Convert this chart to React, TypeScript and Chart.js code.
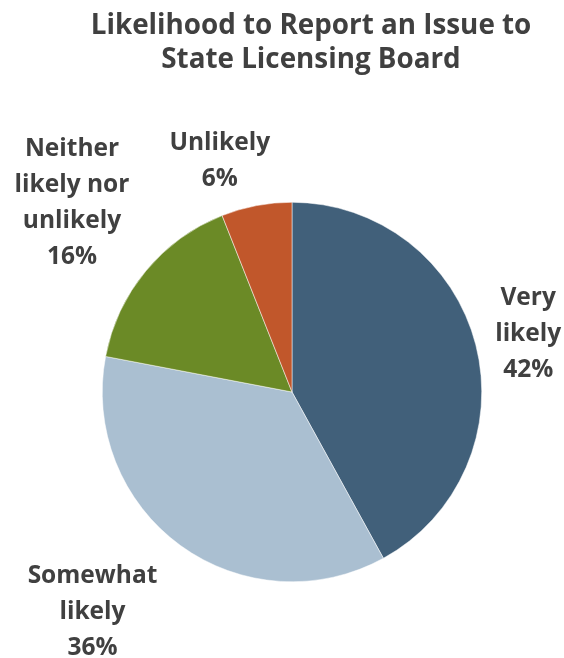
import React, { useEffect, useRef } from 'react';
import { Chart, registerables } from 'chart.js';

Chart.register(...registerables);

const categories = ['Very likely', 'Somewhat likely', 'Neither likely nor unlikely', 'Unlikely'];
const labelLines = [['Very', 'likely'], ['Somewhat', 'likely'], ['Neither', 'likely nor', 'unlikely'], ['Unlikely']];
const values = [42, 36, 16, 6];
const colors = ['#41607a', '#aabfd1', '#6b8a26', '#c1572b'];
const titleLines = ['Likelihood to Report an Issue to', 'State Licensing Board'];

const FONT = '"Open Sans", "Noto Sans", sans-serif';
const TEXT_COLOR = '#404040';

const labelPlugin = {
  id: 'outsideLabels',
  afterDraw(chart: any, _args: any, opts: any) {
    const ctx = chart.ctx;
    const meta = chart.getDatasetMeta(0);
    const gap = opts.gap ?? 22;
    const lh = opts.lineHeight ?? 36;
    const nudges = opts.nudges || [];
    ctx.save();
    ctx.font = `700 ${opts.fontSize}px ${FONT}`;
    ctx.fillStyle = TEXT_COLOR;
    ctx.textAlign = 'center';
    ctx.textBaseline = 'middle';
    meta.data.forEach((arc: any, i: number) => {
      const p = arc.getProps(['x', 'y', 'startAngle', 'endAngle', 'outerRadius'], true);
      const mid = (p.startAngle + p.endAngle) / 2;
      const dx = Math.cos(mid);
      const dy = Math.sin(mid);
      const lines = [...labelLines[i], `${values[i]}%`];
      const w = Math.max(...lines.map((l: string) => ctx.measureText(l).width));
      const h = lines.length * lh;
      const ext = Math.min(Math.abs(dx) > 1e-6 ? w / 2 / Math.abs(dx) : Infinity, Math.abs(dy) > 1e-6 ? h / 2 / Math.abs(dy) : Infinity);
      const d = p.outerRadius + gap + ext;
      const n = nudges[i] || [0, 0];
      const cx = p.x + dx * d + n[0];
      const cy = p.y + dy * d + n[1];
      lines.forEach((l: string, j: number) => {
        ctx.fillText(l, cx, cy - ((lines.length - 1) / 2) * lh + j * lh);
      });
    });
    ctx.restore();
  },
};

const titlePlugin = {
  id: 'customTitle',
  afterDraw(chart: any, _args: any, opts: any) {
    const ctx = chart.ctx;
    ctx.save();
    ctx.font = `700 ${opts.fontSize}px ${FONT}`;
    ctx.fillStyle = TEXT_COLOR;
    ctx.textAlign = 'center';
    ctx.textBaseline = 'alphabetic';
    titleLines.forEach((t, i) => ctx.fillText(t, opts.x, opts.y + i * opts.lineHeight));
    ctx.restore();
  },
};

export default function App() {
  const ref = useRef<HTMLCanvasElement>(null);
  useEffect(() => {
    if (!ref.current) return;
    const chart = new Chart(ref.current, {
      type: 'pie',
      data: {
        labels: categories,
        datasets: [
          {
            data: values,
            backgroundColor: colors,
            borderColor: '#ffffff',
            borderWidth: 0.5,
          },
        ],
      },
      options: {
        responsive: false,
        animation: false,
        layout: { padding: { left: 102, right: 82, top: 202, bottom: 76 } },
        plugins: {
          legend: { display: false },
          tooltip: { enabled: false },
          outsideLabels: { fontSize: 24.5, lineHeight: 36, gap: 20, nudges: [[0, 3], [-37, -4], [-1, -8], [-26, 11]] },
          customTitle: { fontSize: 27.8, x: 311, y: 34, lineHeight: 34 },
        } as any,
      },
      plugins: [labelPlugin, titlePlugin],
    });
    return () => chart.destroy();
  }, []);
  return (
    <div style={{ position: 'fixed', left: 0, top: 0, width: 564, height: 658, background: '#fff' }}>
      <canvas ref={ref} width={564} height={658} style={{ width: 564, height: 658 }} />
    </div>
  );
}
